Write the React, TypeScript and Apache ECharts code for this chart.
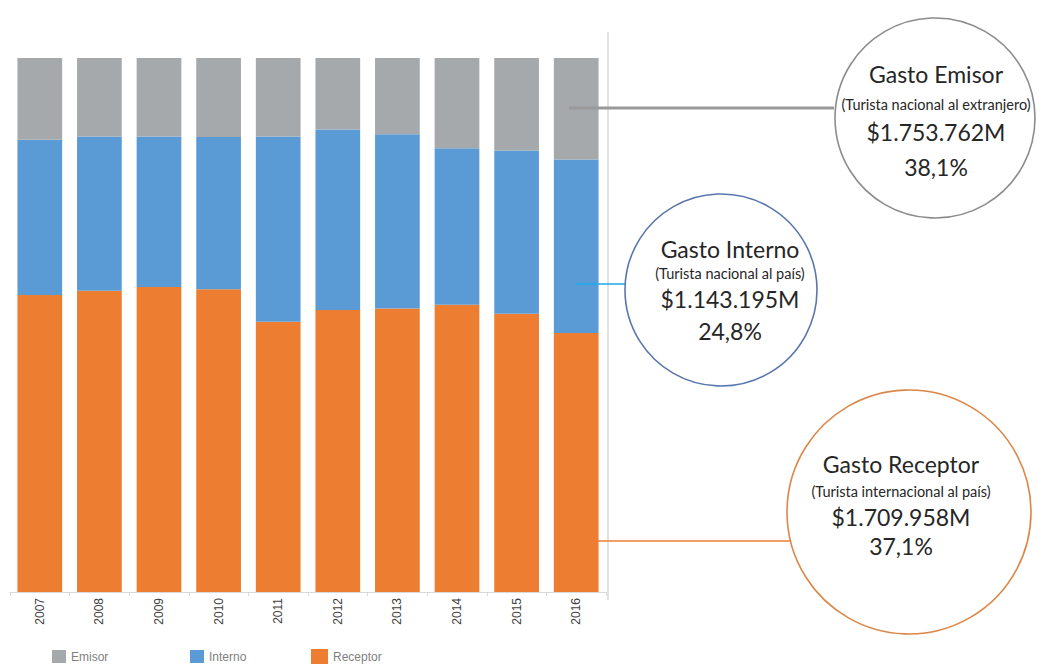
import React, { useEffect, useRef } from "react";
import * as echarts from "echarts";

const years = ["2007", "2008", "2009", "2010", "2011", "2012", "2013", "2014", "2015", "2016"];
const receptor = [55.6, 56.4, 57.1, 56.7, 50.6, 52.8, 53.1, 53.8, 52.1, 48.5];
const interno = [29.1, 28.9, 28.2, 28.5, 34.7, 33.8, 32.6, 29.3, 30.6, 32.5];
const emisor = [15.3, 14.7, 14.7, 14.8, 14.7, 13.4, 14.3, 16.9, 17.3, 19.0];

const COL_EMISOR = "#A5A9AC";
const COL_INTERNO = "#5B9BD5";
const COL_RECEPTOR = "#ED7D31";

const bubbles = [
  {
    title: "Gasto Emisor",
    sub: "(Turista nacional al extranjero)",
    amount: "$1.753.762M",
    pct: "38,1%",
  },
  {
    title: "Gasto Interno",
    sub: "(Turista nacional al país)",
    amount: "$1.143.195M",
    pct: "24,8%",
  },
  {
    title: "Gasto Receptor",
    sub: "(Turista internacional al país)",
    amount: "$1.709.958M",
    pct: "37,1%",
  },
];

const layout = [
  { cx: 935, cy: 118, r: 100, tx: 936, ys: [74, 104, 132, 167], stroke: "#8C8C8C", line: { x1: 569, x2: 834, y: 108, color: "#999999", w: 3 } },
  { cx: 721, cy: 290, r: 96, tx: 730, ys: [249, 273, 299, 331], stroke: "#5A77AD", line: { x1: 576, x2: 626, y: 284, color: "#1AAAE8", w: 1.5 } },
  { cx: 909, cy: 512, r: 122, tx: 901, ys: [464, 491, 517, 546], stroke: "#DB8748", line: { x1: 578, x2: 790, y: 541, color: "#ED7D31", w: 1.5 } },
];

const FONT = "Lato, 'Open Sans', sans-serif";

export default function App() {
  const ref = useRef<HTMLDivElement>(null);
  useEffect(() => {
    if (!ref.current) return;
    const chart = echarts.init(ref.current, undefined, { renderer: "svg" });
    const graphics: any[] = [];
    graphics.push({
      type: "line",
      shape: { x1: 608, y1: 32, x2: 608, y2: 600 },
      style: { stroke: "#E3E3E3", lineWidth: 2 },
    });
    layout.forEach((l, i) => {
      const b = bubbles[i];
      graphics.push({
        type: "line",
        shape: { x1: l.line.x1, y1: l.line.y, x2: l.line.x2, y2: l.line.y },
        style: { stroke: l.line.color, lineWidth: l.line.w },
        z: 10,
      });
      graphics.push({
        type: "circle",
        shape: { cx: l.cx, cy: l.cy, r: l.r },
        style: { fill: "#ffffff", stroke: l.stroke, lineWidth: 1.6 },
        z: 11,
      });
      const texts = [
        { t: b.title, s: 23 },
        { t: b.sub, s: 14.5 },
        { t: b.amount, s: 23 },
        { t: b.pct, s: 23 },
      ];
      texts.forEach((tt, j) => {
        graphics.push({
          type: "text",
          x: l.tx,
          y: l.ys[j],
          z: 12,
          style: {
            text: tt.t,
            fontSize: tt.s,
            fontFamily: FONT,
            fill: "#262626",
            align: "center",
            verticalAlign: "middle",
          },
        });
      });
    });

    const legendBase = {
      top: 645,
      icon: "rect",
      itemWidth: 14,
      itemHeight: 13,
      itemGap: 5,
      textStyle: { color: "#7F7F7F", fontSize: 12, fontFamily: "Arial, 'Liberation Sans', sans-serif" },
      selectedMode: false,
    };

    chart.setOption({
      animation: false,
      backgroundColor: "#ffffff",
      grid: { left: 10, right: 433, top: 58, bottom: 76, containLabel: false },
      legend: [
        { ...legendBase, left: 47, data: ["Emisor"] },
        { ...legendBase, left: 185, data: ["Interno"] },
        { ...legendBase, left: 306, top: 644, itemWidth: 17, itemHeight: 15, data: ["Receptor"] },
      ],
      xAxis: {
        type: "category",
        data: years,
        axisLine: { lineStyle: { color: "#D9D9D9", width: 1 } },
        axisTick: { show: true, length: 4, lineStyle: { color: "#D9D9D9" } },
        axisLabel: {
          rotate: 90,
          margin: 6,
          fontSize: 12,
          color: "#404040",
          fontFamily: "Arial, 'Liberation Sans', sans-serif",
        },
      },
      yAxis: {
        type: "value",
        min: 0,
        max: 100,
        show: false,
        splitLine: { show: false },
      },
      series: [
        { name: "Receptor", type: "bar", stack: "t", data: receptor, barCategoryGap: "25%", itemStyle: { color: COL_RECEPTOR } },
        { name: "Interno", type: "bar", stack: "t", data: interno, itemStyle: { color: COL_INTERNO } },
        { name: "Emisor", type: "bar", stack: "t", data: emisor, itemStyle: { color: COL_EMISOR } },
      ],
      graphic: graphics,
    });
    return () => chart.dispose();
  }, []);
  return (
    <div
      ref={ref}
      style={{ position: "fixed", left: 0, top: 0, width: 1039, height: 668, background: "#fff" }}
    />
  );
}
